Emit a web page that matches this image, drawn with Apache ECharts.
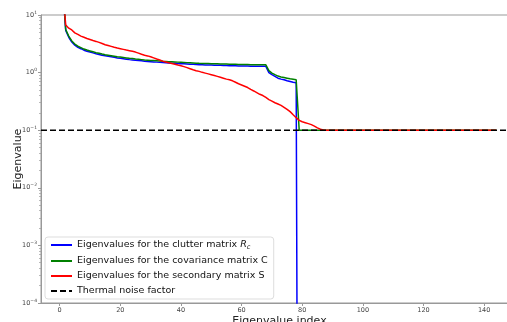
<!DOCTYPE html>
<html><head><meta charset="utf-8">
<script src="https://cdn.jsdelivr.net/npm/echarts@6/dist/echarts.min.js"></script>
<style>html,body{margin:0;padding:0;background:#fff}#c{width:507px;height:322px}</style>
</head><body><div id="c"></div>
<script>
// Eigenvalue indices 1..144
const startIndex = 1;
const clutterR = [30,5.4,4.1,3.4,3.0,2.75,2.6,2.45,2.35,2.27,
 2.2,2.12,2.06,2.0,1.96,1.92,1.88,1.84,1.8,1.77,
 1.74,1.71,1.68,1.66,1.64,1.62,1.6,1.58,1.565,1.55,
 1.535,1.52,1.505,1.49,1.48,1.47,1.46,1.45,1.44,1.43,
 1.42,1.41,1.4,1.39,1.38,1.37,1.365,1.36,1.355,1.35,
 1.345,1.34,1.335,1.33,1.325,1.32,1.315,1.31,1.305,1.3,
 1.298,1.296,1.294,1.292,1.29,1.288,1.286,1.284,1.0,0.92,
 0.86,0.8,0.77,0.75,0.72,0.7,0.68,0.665,
 1e-15,1e-15,1e-15,1e-15,1e-15,1e-15,1e-15,1e-15,1e-15,1e-15,
 1e-15,1e-15,1e-15,1e-15,1e-15,1e-15,1e-15,1e-15,1e-15,1e-15,
 1e-15,1e-15,1e-15,1e-15,1e-15,1e-15,1e-15,1e-15,1e-15,1e-15,
 1e-15,1e-15,1e-15,1e-15,1e-15,1e-15,1e-15,1e-15,1e-15,1e-15,
 1e-15,1e-15,1e-15,1e-15,1e-15,1e-15,1e-15,1e-15,1e-15,1e-15,
 1e-15,1e-15,1e-15,1e-15,1e-15,1e-15,1e-15,1e-15,1e-15,1e-15,
 1e-15,1e-15,1e-15,1e-15,1e-15,1e-15];
const covarianceC = [32,5.6,4.3,3.55,3.13,2.87,2.72,2.56,2.46,2.38,
 2.3,2.22,2.16,2.1,2.05,2.01,1.97,1.93,1.89,1.86,
 1.83,1.8,1.77,1.75,1.72,1.7,1.68,1.66,1.645,1.63,
 1.615,1.6,1.585,1.57,1.56,1.55,1.54,1.53,1.52,1.51,
 1.5,1.49,1.48,1.47,1.46,1.45,1.445,1.44,1.435,1.43,
 1.425,1.42,1.415,1.41,1.405,1.4,1.395,1.39,1.385,1.38,
 1.378,1.376,1.374,1.372,1.37,1.368,1.366,1.364,1.08,0.98,
 0.92,0.87,0.84,0.82,0.8,0.78,0.765,0.75,
 0.1,0.1,0.1,0.1,0.1,0.1,0.1,0.1,0.1,0.1,
 0.1,0.1,0.1,0.1,0.1,0.1,0.1,0.1,0.1,0.1,
 0.1,0.1,0.1,0.1,0.1,0.1,0.1,0.1,0.1,0.1,
 0.1,0.1,0.1,0.1,0.1,0.1,0.1,0.1,0.1,0.1,
 0.1,0.1,0.1,0.1,0.1,0.1,0.1,0.1,0.1,0.1,
 0.1,0.1,0.1,0.1,0.1,0.1,0.1,0.1,0.1,0.1,
 0.1,0.1,0.1,0.1,0.1,0.1];
const secondaryS = [30,6.7,5.9,5.5,4.9,4.6,4.3,4.1,3.9,3.75,
 3.6,3.48,3.35,3.2,3.05,2.95,2.85,2.75,2.67,2.6,
 2.53,2.46,2.4,2.34,2.27,2.18,2.08,2.0,1.95,1.88,
 1.8,1.72,1.65,1.58,1.53,1.48,1.44,1.4,1.35,1.31,
 1.27,1.22,1.17,1.12,1.08,1.05,1.01,0.98,0.95,0.92,
 0.89,0.86,0.83,0.8,0.77,0.75,0.72,0.68,0.64,0.61,
 0.58,0.55,0.51,0.48,0.45,0.42,0.4,0.37,0.34,0.32,
 0.3,0.285,0.27,0.25,0.23,0.21,0.185,0.165,0.148,0.14,
 0.135,0.13,0.125,0.118,0.11,0.104,0.101,
 0.1,0.1,0.1,0.1,0.1,0.1,0.1,0.1,0.1,0.1,
 0.1,0.1,0.1,0.1,0.1,0.1,0.1,0.1,0.1,0.1,
 0.1,0.1,0.1,0.1,0.1,0.1,0.1,0.1,0.1,0.1,
 0.1,0.1,0.1,0.1,0.1,0.1,0.1,0.1,0.1,0.1,
 0.1,0.1,0.1,0.1,0.1,0.1,0.1,0.1,0.1,0.1,
 0.1,0.1,0.1,0.1,0.1,0.1,0.1];
const thermalNoise = 0.1;
const xTicks = [0,20,40,60,80,100,120,140];
const yTicks = [1e-4,1e-3,1e-2,1e-1,1e0,1e1];
const xMin = -6.15, xMax = 151.15;

const names = ['Eigenvalues for the clutter matrix R_c','Eigenvalues for the covariance matrix C','Eigenvalues for the secondary matrix S','Thermal noise factor'];
function toPairs(arr){ return arr.map((v,i)=>[startIndex+i, v]); }
const yMinor = [];
for (let e=-4; e<1; e++) for (let m=2; m<10; m++) yMinor.push(m*Math.pow(10,e));

const FONT = 'DejaVu Sans';
const chart = echarts.init(document.getElementById('c'), null, {renderer:'canvas'});
const sup = {'-4':'−4','-3':'−3','-2':'−2','-1':'−1','0':'0','1':'1'};
chart.setOption({
  animation:false,
  backgroundColor:'#fff',
  grid:{left:41, top:15, right:-11, bottom:19, containLabel:false, outerBoundsMode:'none',
    show:true, borderColor:'#999', borderWidth:1, backgroundColor:'transparent'},
  xAxis:{type:'value', min:xMin, max:xMax,
    name:'Eigenvalue index', nameLocation:'middle', nameGap:13, nameMoveOverlap:false,
    nameTextStyle:{fontFamily:FONT, fontSize:11, color:'#222'},
    axisLine:{onZero:false, lineStyle:{color:'#999', width:1}},
    axisTick:{show:true, customValues:xTicks, length:3, lineStyle:{color:'#999'}},
    axisLabel:{customValues:xTicks, fontFamily:FONT, fontSize:6.5, color:'#444', margin:4},
    splitLine:{show:false}},
  yAxis:[{type:'log', logBase:10, min:1e-4, max:10,
    name:'Eigenvalue', nameLocation:'middle', nameGap:17, nameRotate:90, nameMoveOverlap:false,
    nameTextStyle:{fontFamily:FONT, fontSize:11, color:'#222'},
    axisLine:{show:true, onZero:false, lineStyle:{color:'#999', width:1}},
    axisTick:{show:true, customValues:yTicks, length:3, lineStyle:{color:'#999'}},
    axisLabel:{customValues:yTicks, margin:4, fontFamily:FONT,
      formatter:(v)=>{const e=Math.round(Math.log10(v)); return '{b|10}{s|'+sup[String(e)]+'}';},
      rich:{b:{fontFamily:FONT, fontSize:6.5, color:'#444'}, s:{fontFamily:FONT, fontSize:4.5, color:'#444', padding:[0,0,5,0]}}},
    splitLine:{show:false}},
   {type:'log', logBase:10, min:1e-4, max:10, position:'left',
    axisLine:{show:false, onZero:false}, axisLabel:{show:false}, splitLine:{show:false},
    axisTick:{show:true, customValues:yMinor, length:1.8, lineStyle:{color:'#aaa'}}}],
  legend:{orient:'vertical', left:45, top:237, itemWidth:21, itemHeight:12, itemGap:5,
    padding:[3,6,3,5], borderColor:'#ddd', borderWidth:1, borderRadius:3, backgroundColor:'rgba(255,255,255,0.85)',
    data:names, itemStyle:{opacity:0},
    textStyle:{fontFamily:FONT, fontSize:9.5, color:'#111',
      rich:{it:{fontFamily:FONT, fontSize:9.5, fontStyle:'italic', color:'#111'}, sub:{fontFamily:FONT, fontSize:6.5, fontStyle:'italic', color:'#111', padding:[5,0,0,0]}}},
    formatter:(n)=> n.endsWith('R_c') ? n.slice(0,-3)+'{it|R}{sub|c}' : n},
  series:[
    {name:names[0], type:'line', data:toPairs(clutterR), symbol:'none', clip:true, lineStyle:{color:'#0000ff', width:1.5}, itemStyle:{color:'#0000ff'}, z:2},
    {name:names[1], type:'line', data:toPairs(covarianceC), symbol:'none', clip:true, lineStyle:{color:'#008000', width:1.5}, itemStyle:{color:'#008000'}, z:3},
    {name:names[2], type:'line', data:toPairs(secondaryS), symbol:'none', clip:true, lineStyle:{color:'#ff0000', width:1.5}, itemStyle:{color:'#ff0000'}, z:4},
    {name:names[3], type:'line', data:[[xMin,thermalNoise],[xMax,thermalNoise]], symbol:'none', clip:true, lineStyle:{color:'#000', width:1.5, type:[6,3]}, itemStyle:{color:'#000'}, z:5}
  ]
});
</script></body></html>
